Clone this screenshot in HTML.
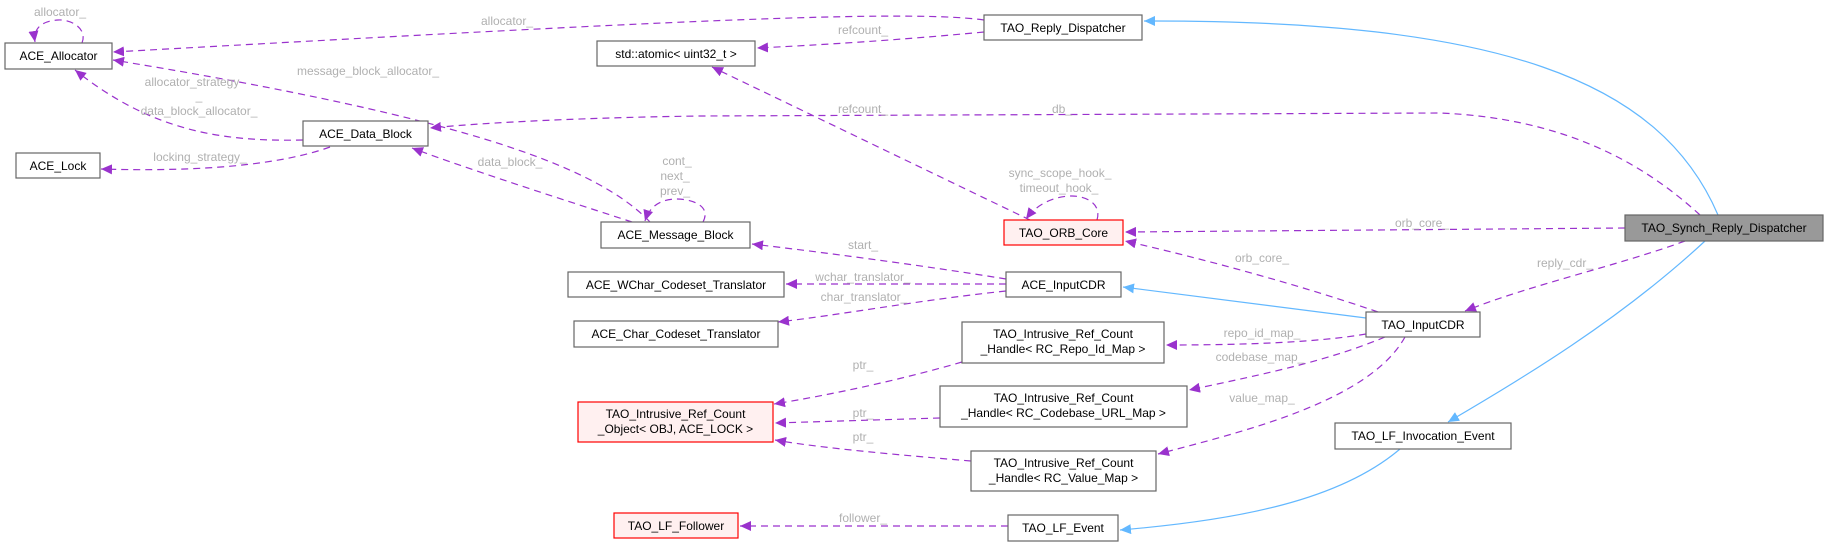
<!DOCTYPE html>
<html><head><meta charset="utf-8"><style>
html,body{margin:0;padding:0;background:#fff;}
svg{display:block;}
.n{font-family:"Liberation Sans",sans-serif;font-size:12px;fill:#000;}
.l{font-family:"Liberation Sans",sans-serif;font-size:12px;fill:#b0b0b0;}
.p{fill:none;stroke:#9a32cd;stroke-width:1.2;stroke-dasharray:7,5;}
.b{fill:none;stroke:#63b8ff;stroke-width:1.2;}
.box{fill:#fff;stroke:#666;stroke-width:1.2;}
.red{fill:#fff0f0;stroke:#ff0000;stroke-width:1.2;}
.grey{fill:#999;stroke:#666;stroke-width:1.2;}
</style></head><body>
<svg width="1828" height="544" viewBox="0 0 1828 544" xmlns="http://www.w3.org/2000/svg">
<defs>
<marker id="mp" markerUnits="userSpaceOnUse" markerWidth="12" markerHeight="10" refX="11" refY="5" orient="auto"><path d="M0,0 L11,5 L0,10 z" fill="#9a32cd"/></marker>
<marker id="mb" markerUnits="userSpaceOnUse" markerWidth="12" markerHeight="10" refX="11" refY="5" orient="auto"><path d="M0,0 L11,5 L0,10 z" fill="#63b8ff"/></marker>
</defs>

<path class="p" marker-end="url(#mp)" d="M82,43 C88,28 70,19 58,20 C42,21 33,28 35,42"/>
<path class="p" marker-end="url(#mp)" d="M984,20 C900,8 600,25 113,52"/>
<path class="p" marker-end="url(#mp)" d="M984,32 C900,40 820,45 757,48"/>
<path class="p" marker-end="url(#mp)" d="M1030,220 L712,67"/>
<path class="p" marker-end="url(#mp)" d="M650,222 C600,170 480,120 113,60"/>
<path class="p" marker-end="url(#mp)" d="M303,140 C220,142 150,130 75,70"/>
<path class="p" marker-end="url(#mp)" d="M330,147 C280,165 200,172 101,169"/>
<path class="p" marker-end="url(#mp)" d="M632,222 C580,205 470,170 412,148"/>
<path class="p" marker-end="url(#mp)" d="M703,222 C712,205 690,199 677,199 C662,199 650,205 645,221"/>
<path class="p" marker-end="url(#mp)" d="M1700,215 C1640,160 1560,118 1440,113 L700,116 C560,118 470,124 430,128"/>
<path class="p" marker-end="url(#mp)" d="M1625,228 L1125,232"/>
<path class="p" marker-end="url(#mp)" d="M1097,220 C1102,203 1085,196 1072,196 C1060,196 1040,200 1026,219"/>
<path class="p" marker-end="url(#mp)" d="M1378,312 C1300,285 1200,258 1125,241"/>
<path class="p" marker-end="url(#mp)" d="M1685,241 C1620,265 1530,285 1465,311"/>
<path class="p" marker-end="url(#mp)" d="M1006,279 C920,265 820,252 752,244"/>
<path class="p" marker-end="url(#mp)" d="M1006,284 L786,284"/>
<path class="p" marker-end="url(#mp)" d="M1006,291 C920,300 840,315 778,322"/>
<path class="p" marker-end="url(#mp)" d="M1366,334 C1320,342 1250,345 1166,345"/>
<path class="p" marker-end="url(#mp)" d="M1385,337 C1330,360 1270,373 1189,390"/>
<path class="p" marker-end="url(#mp)" d="M1405,337 C1370,400 1250,430 1158,454"/>
<path class="p" marker-end="url(#mp)" d="M962,362 C900,380 830,395 774,404"/>
<path class="p" marker-end="url(#mp)" d="M940,418 L775,423"/>
<path class="p" marker-end="url(#mp)" d="M971,461 C900,455 820,448 775,440"/>
<path class="p" marker-end="url(#mp)" d="M1008,526 L740,526"/>

<path class="b" marker-end="url(#mb)" d="M1718,215 C1660,80 1500,20 1144,21"/>
<path class="b" marker-end="url(#mb)" d="M1366,318 L1123,287"/>
<path class="b" marker-end="url(#mb)" d="M1705,241 C1620,320 1520,380 1448,422"/>
<path class="b" marker-end="url(#mb)" d="M1400,449 C1340,500 1240,520 1120,530"/>

<g class="l" text-anchor="middle">
<text x="60" y="16">allocator_</text>
<text x="507" y="25">allocator_</text>
<text x="863" y="34">refcount_</text>
<text x="863" y="113">refcount_</text>
<text x="368" y="75">message_block_allocator_</text>
<text x="192" y="86">allocator_strategy</text>
<text x="199" y="100">_</text>
<text x="199" y="115">data_block_allocator_</text>
<text x="200" y="161">locking_strategy_</text>
<text x="510" y="166">data_block_</text>
<text x="677" y="165">cont_</text>
<text x="675" y="180">next_</text>
<text x="675" y="195">prev_</text>
<text x="1062" y="113">db_</text>
<text x="1060" y="177">sync_scope_hook_</text>
<text x="1059" y="192">timeout_hook_</text>
<text x="1422" y="227">orb_core_</text>
<text x="1262" y="262">orb_core_</text>
<text x="1565" y="267">reply_cdr_</text>
<text x="863" y="249">start_</text>
<text x="863" y="281">wchar_translator_</text>
<text x="864" y="301">char_translator_</text>
<text x="1262" y="337">repo_id_map_</text>
<text x="1260" y="361">codebase_map_</text>
<text x="1262" y="402">value_map_</text>
<text x="863" y="369">ptr_</text>
<text x="863" y="417">ptr_</text>
<text x="863" y="441">ptr_</text>
<text x="863" y="522">follower_</text>
</g>

<g class="n" text-anchor="middle">
<rect class="box" x="5" y="43" width="107" height="26"/><text x="58.5" y="60">ACE_Allocator</text>
<rect class="box" x="597" y="41" width="158" height="25"/><text x="676" y="58">std::atomic&lt; uint32_t &gt;</text>
<rect class="box" x="984" y="15" width="158" height="25"/><text x="1063" y="32">TAO_Reply_Dispatcher</text>
<rect class="box" x="303" y="121" width="125" height="25"/><text x="365.5" y="138">ACE_Data_Block</text>
<rect class="box" x="16" y="153" width="84" height="25"/><text x="58" y="170">ACE_Lock</text>
<rect class="box" x="601" y="222" width="149" height="26"/><text x="675.5" y="239">ACE_Message_Block</text>
<rect class="red" x="1004" y="220" width="119" height="25"/><text x="1063.5" y="237">TAO_ORB_Core</text>
<rect class="grey" x="1625" y="215" width="198" height="26"/><text x="1724" y="232">TAO_Synch_Reply_Dispatcher</text>
<rect class="box" x="568" y="272" width="216" height="25"/><text x="676" y="289">ACE_WChar_Codeset_Translator</text>
<rect class="box" x="1006" y="272" width="115" height="25"/><text x="1063.5" y="289">ACE_InputCDR</text>
<rect class="box" x="574" y="321" width="204" height="26"/><text x="676" y="338">ACE_Char_Codeset_Translator</text>
<rect class="box" x="1366" y="312" width="114" height="25"/><text x="1423" y="329">TAO_InputCDR</text>
<rect class="box" x="962" y="322" width="202" height="41"/>
<text x="1063" y="338">TAO_Intrusive_Ref_Count</text><text x="1063" y="353">_Handle&lt; RC_Repo_Id_Map &gt;</text>
<rect class="red" x="578" y="402" width="195" height="40"/>
<text x="675.5" y="418">TAO_Intrusive_Ref_Count</text><text x="675.5" y="433">_Object&lt; OBJ, ACE_LOCK &gt;</text>
<rect class="box" x="940" y="386" width="247" height="41"/>
<text x="1063.5" y="402">TAO_Intrusive_Ref_Count</text><text x="1063.5" y="417">_Handle&lt; RC_Codebase_URL_Map &gt;</text>
<rect class="box" x="1335" y="423" width="176" height="26"/><text x="1423" y="440">TAO_LF_Invocation_Event</text>
<rect class="box" x="971" y="451" width="185" height="40"/>
<text x="1063.5" y="467">TAO_Intrusive_Ref_Count</text><text x="1063.5" y="482">_Handle&lt; RC_Value_Map &gt;</text>
<rect class="red" x="614" y="513" width="124" height="25"/><text x="676" y="530">TAO_LF_Follower</text>
<rect class="box" x="1008" y="515" width="110" height="26"/><text x="1063" y="532">TAO_LF_Event</text>
</g>
</svg>
</body></html>
